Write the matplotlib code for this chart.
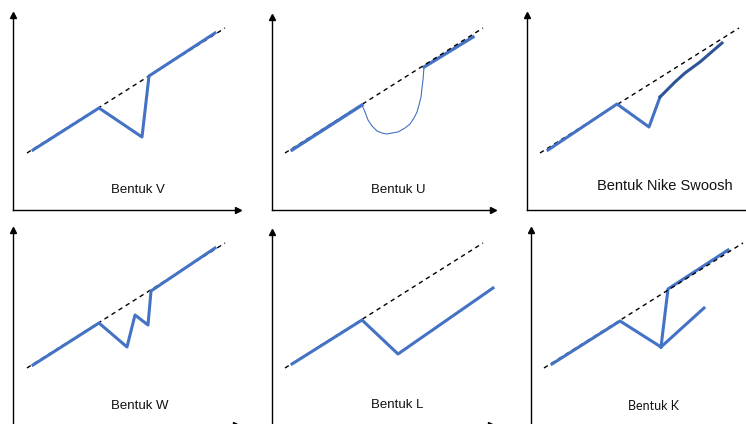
import matplotlib.pyplot as plt

# Pola pemulihan ekonomi - six sketch panels
# (units: pixels from each panel's axis corner)

# V
v_trend_x, v_trend_y = [14, 212], [57, 182]
v_x = [20, 86, 129, 136, 202]
v_y = [60, 102, 73, 134, 177]

# U
u_trend_x, u_trend_y = [13, 211], [57, 182]
u_pre_x, u_pre_y = [20, 90], [60, 105]
u_dip_x = [90, 93, 96, 100, 105, 110, 115, 120, 126, 133, 138, 142, 145, 147, 149, 150, 151, 152]
u_dip_y = [105, 98, 90, 84, 79, 77, 76, 77, 78, 82, 86, 92, 98, 105, 113, 122, 130, 143]
u_post_x, u_post_y = [152, 201], [143, 173]

# Nike swoosh
n_trend_x, n_trend_y = [13, 212], [57, 182]
n_pre_x, n_pre_y = [21, 90, 122, 133], [60, 106, 83, 113]
n_swoosh_x = [133, 140, 148, 158, 173, 195]
n_swoosh_y = [113, 120, 128, 137, 148, 167]

# W
w_trend_x, w_trend_y = [14, 212], [57, 182]
w_x = [20, 86, 114, 122, 135, 138, 202]
w_y = [60, 102, 78, 110, 100, 134, 177]

# L
l_trend_x, l_trend_y = [13, 211], [57, 182]
l_x = [20, 90, 126, 221]
l_y = [61, 105, 71, 137]

# K
k_trend_x, k_trend_y = [13, 212], [57, 182]
k_pre_x, k_pre_y = [21, 89, 130], [61, 104, 78]
k_high_x, k_high_y = [130, 137, 197], [78, 136, 175]
k_low_x, k_low_y = [130, 173], [78, 117]

labels = ["Bentuk V", "Bentuk U", "Bentuk Nike Swoosh",
          "Bentuk W", "Bentuk L", "Bentuk K"]

BLUE = "#4472C4"
DARK = "#2F5597"
W_FIG, H_FIG = 746, 424

fig = plt.figure(figsize=(7.46, 4.24), dpi=100)


def panel(x0, y0, w, h):
    # x0, y0 = pixel position of the axis corner
    ax = fig.add_axes([x0 / W_FIG, (H_FIG - y0) / H_FIG, w / W_FIG, h / H_FIG])
    ax.set_xlim(0, w)
    ax.set_ylim(0, h)
    ax.patch.set_alpha(0)
    for s in ["top", "right"]:
        ax.spines[s].set_visible(False)
    for s in ["left", "bottom"]:
        ax.spines[s].set_linewidth(1.0)
    ax.set_xticks([])
    ax.set_yticks([])
    ax.plot(1, 0, ">k", ms=4, transform=ax.get_yaxis_transform(), clip_on=False)
    ax.plot(0, 1, "^k", ms=4, transform=ax.get_xaxis_transform(), clip_on=False)
    return ax


def trend(ax, x, y, z=1):
    ax.plot(x, y, color="black", lw=1.0, dashes=(3.2, 2.8), clip_on=False, zorder=z)


axes = [panel(13, 210, 225, 195), panel(272, 210, 221, 193), panel(527, 210, 225, 195),
        panel(13, 425, 223, 195), panel(272, 425, 219, 193), panel(531, 425, 225, 195)]

ax = axes[0]
ax.plot(v_x, v_y, color=BLUE, lw=2.2, clip_on=False, zorder=2)
trend(ax, v_trend_x, v_trend_y)

ax = axes[1]
ax.plot(u_pre_x, u_pre_y, color=BLUE, lw=2.4, clip_on=False, zorder=4)
ax.plot(u_dip_x, u_dip_y, color=BLUE, lw=0.8, clip_on=False, zorder=2)
ax.plot(u_post_x, u_post_y, color=BLUE, lw=2.4, clip_on=False, zorder=2)
trend(ax, u_trend_x, u_trend_y, z=3)

ax = axes[2]
ax.plot(n_pre_x, n_pre_y, color=BLUE, lw=2.2, clip_on=False, zorder=2)
ax.plot(n_swoosh_x, n_swoosh_y, color=DARK, lw=2.2, clip_on=False, zorder=2)
trend(ax, n_trend_x, n_trend_y)

ax = axes[3]
ax.plot(w_x, w_y, color=BLUE, lw=2.2, clip_on=False, zorder=2)
trend(ax, w_trend_x, w_trend_y)

ax = axes[4]
ax.plot(l_x, l_y, color=BLUE, lw=2.2, clip_on=False, zorder=2)
trend(ax, l_trend_x, l_trend_y)

ax = axes[5]
ax.plot(k_pre_x, k_pre_y, color=BLUE, lw=2.2, clip_on=False, zorder=4)
ax.plot(k_high_x, k_high_y, color=BLUE, lw=2.2, clip_on=False, zorder=2)
ax.plot(k_low_x, k_low_y, color=BLUE, lw=2.2, clip_on=False, zorder=2)
trend(ax, k_trend_x, k_trend_y, z=3)

# labels
text_pos = [(125, 20), (126, 20), (138, 24), (127, 19), (125, 20), (122, 19)]
sizes = [9.5, 9.5, 10.5, 9.5, 9.5, 9.0]
for i, ax in enumerate(axes):
    fam = "Lato" if i == 5 else "Liberation Sans"
    ax.text(text_pos[i][0], text_pos[i][1], labels[i], ha="center", va="center",
            fontsize=sizes[i], family=fam, color="#111111")

fig.savefig("out.png", dpi=100)
